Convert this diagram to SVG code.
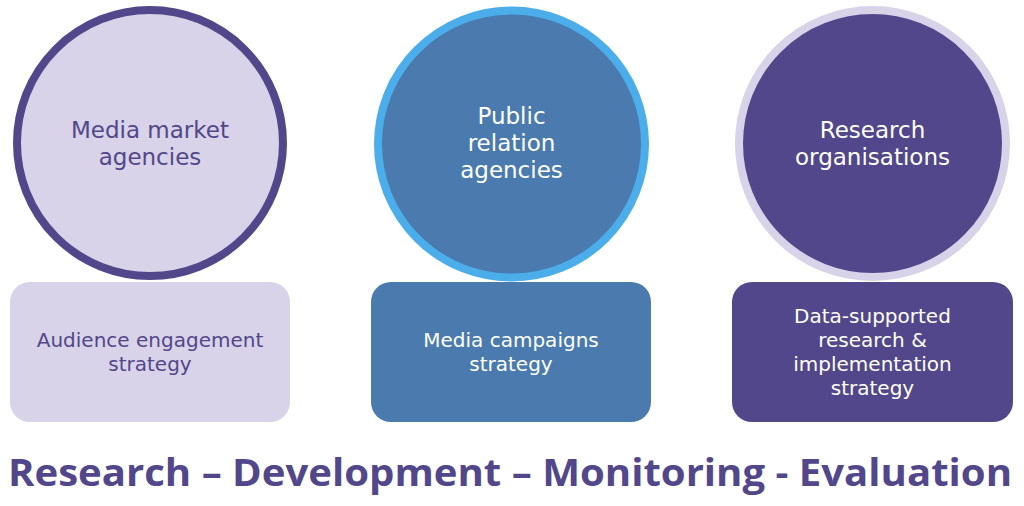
<svg xmlns="http://www.w3.org/2000/svg" width="1024" height="506" viewBox="0 0 1024 506">
<style>
.t{font-family:"DejaVu Sans","Open Sans",sans-serif;text-anchor:middle}
.c{font-size:23px}
.r{font-size:20px}
.dark{fill:#52478a}
.light{fill:#ffffff}
.title{font-family:"Open Sans","Liberation Sans",sans-serif;font-weight:700;font-size:38px;fill:#52478a;text-anchor:middle}
</style>
<rect width="1024" height="506" fill="#ffffff"/>
<g id="circle-media-market">
<circle cx="150" cy="143" r="133" fill="#d8d3e8" stroke="#52478a" stroke-width="8"/>
<text class="t c dark" x="150" y="138">Media market</text>
<text class="t c dark" x="150" y="165">agencies</text>
</g>
<g id="circle-public-relation">
<circle cx="511.5" cy="144" r="133.5" fill="#4a7aae" stroke="#4baeea" stroke-width="8"/>
<text class="t c light" x="511.5" y="124">Public</text>
<text class="t c light" x="511.5" y="151">relation</text>
<text class="t c light" x="511.5" y="178">agencies</text>
</g>
<g id="circle-research">
<circle cx="872.5" cy="143.5" r="133.5" fill="#52478a" stroke="#d8d3e8" stroke-width="8"/>
<text class="t c light" x="872.5" y="138">Research</text>
<text class="t c light" x="872.5" y="165">organisations</text>
</g>
<g id="box-audience">
<rect x="10" y="282" width="280" height="140" rx="20" fill="#d8d3e8"/>
<text class="t r dark" x="150" y="347">Audience engagement</text>
<text class="t r dark" x="150" y="371">strategy</text>
</g>
<g id="box-media-campaigns">
<rect x="371" y="282" width="280" height="140" rx="20" fill="#4a7aae"/>
<text class="t r light" x="511" y="347">Media campaigns</text>
<text class="t r light" x="511" y="371">strategy</text>
</g>
<g id="box-data-supported">
<rect x="732" y="282" width="281" height="140" rx="20" fill="#52478a"/>
<text class="t r light" x="872.5" y="323">Data-supported</text>
<text class="t r light" x="872.5" y="347">research &amp;</text>
<text class="t r light" x="872.5" y="371">implementation</text>
<text class="t r light" x="872.5" y="395">strategy</text>
</g>
<g id="connectors"/>
<g id="title">
<text class="title" x="510" y="486" textLength="1004" lengthAdjust="spacingAndGlyphs">Research – Development – Monitoring - Evaluation</text>
</g>
</svg>
